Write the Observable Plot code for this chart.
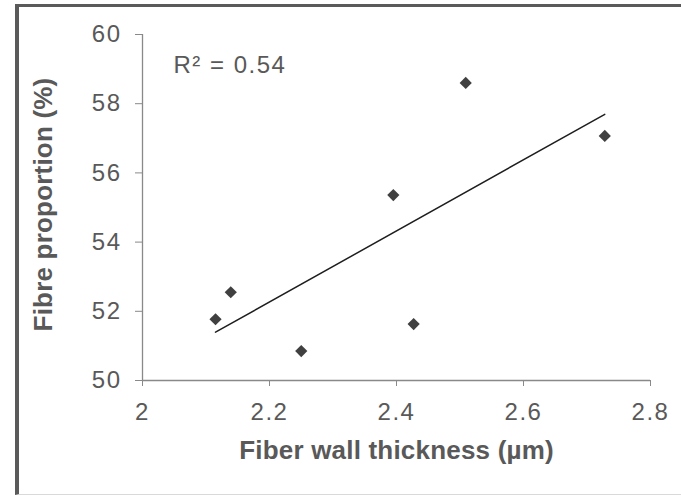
<!DOCTYPE html>
<html>
<head>
<meta charset="utf-8">
<script src="https://cdn.jsdelivr.net/npm/d3@7"></script>
<script src="https://cdn.jsdelivr.net/npm/@observablehq/plot@0.6"></script>
<style>
  body { margin: 0; background: #fff; }
  #wrap { position: relative; width: 681px; height: 496px; overflow: hidden; background: #fff; }
  #border {
    position: absolute; left: 15px; top: 4px; width: 720px; height: 487px;
    border-left: 4px solid #5a5a5a; border-top: 3px solid #5a5a5a; border-bottom: 1px solid #d9d9d9;
    pointer-events: none; box-sizing: content-box;
  }
  #wrap svg { display: block; }
</style>
</head>
<body>
<div id="wrap"><div id="border"></div></div>
<script>
// Data
const thickness = [2.115, 2.139, 2.250, 2.395, 2.427, 2.509, 2.728];
const fibre     = [51.77, 52.55, 50.85, 55.36, 51.63, 58.60, 57.07];
const xTicks = [2, 2.2, 2.4, 2.6, 2.8];
const yTicks = [50, 52, 54, 56, 58, 60];
const xDomain = [2, 2.8];
const yDomain = [50, 60];
const xTitle = "Fiber wall thickness (µm)";
const yTitle = "Fibre proportion (%)";
const r2Label = "R² = 0.54";

const points = thickness.map((x, i) => ({x, y: fibre[i]}));

const axisGray = "#898989";
const textGray = "#595959";

const chart = Plot.plot({
  width: 681,
  height: 496,
  marginLeft: 142,
  marginRight: 31,
  marginTop: 34,
  marginBottom: 116,
  style: {fontFamily: "'Liberation Sans', Arial, sans-serif", fontSize: "24px", color: textGray, background: "transparent", overflow: "visible"},
  x: {domain: xDomain},
  y: {domain: yDomain},
  marks: [
    Plot.ruleX([xDomain[0]], {stroke: axisGray, strokeWidth: 1.3}),
    Plot.ruleY([yDomain[0]], {stroke: axisGray, strokeWidth: 1.3}),
    Plot.axisX({ticks: xTicks, tickFormat: d => String(d), tickSize: 6, tickPadding: 16, stroke: axisGray, fill: textGray, label: null}),
    Plot.axisY({ticks: yTicks, tickFormat: d => String(d), tickSize: 7, tickPadding: 14, stroke: axisGray, fill: textGray, label: null}),
    Plot.linearRegressionY(points, {x: "x", y: "y", ci: 0, stroke: "#1e1e1e", strokeWidth: 1.5}),
    Plot.dot(points, {x: "x", y: "y", symbol: "diamond2", r: 5.5, fill: "#404040", stroke: "none"}),
    Plot.text([r2Label], {text: d => d, frameAnchor: "top-left", textAnchor: "start", lineAnchor: "middle", dx: 31, dy: 31, fill: textGray, fontSize: 24}),
    Plot.text([xTitle], {text: d => d, frameAnchor: "bottom", textAnchor: "middle", lineAnchor: "middle", dy: 70, fill: textGray, fontSize: 26, fontWeight: "bold"}),
    Plot.text([yTitle], {text: d => d, frameAnchor: "left", textAnchor: "middle", lineAnchor: "middle", rotate: -90, dx: -99, dy: -3, fill: textGray, fontSize: 26, fontWeight: "bold"})
  ]
});

d3.select(chart).selectAll("text").style("letter-spacing", "1.5px");
d3.select(chart).selectAll('g[font-weight="bold"] text').style("letter-spacing", "0.2px");

document.getElementById("wrap").insertBefore(chart, document.getElementById("border"));
</script>
</body>
</html>
